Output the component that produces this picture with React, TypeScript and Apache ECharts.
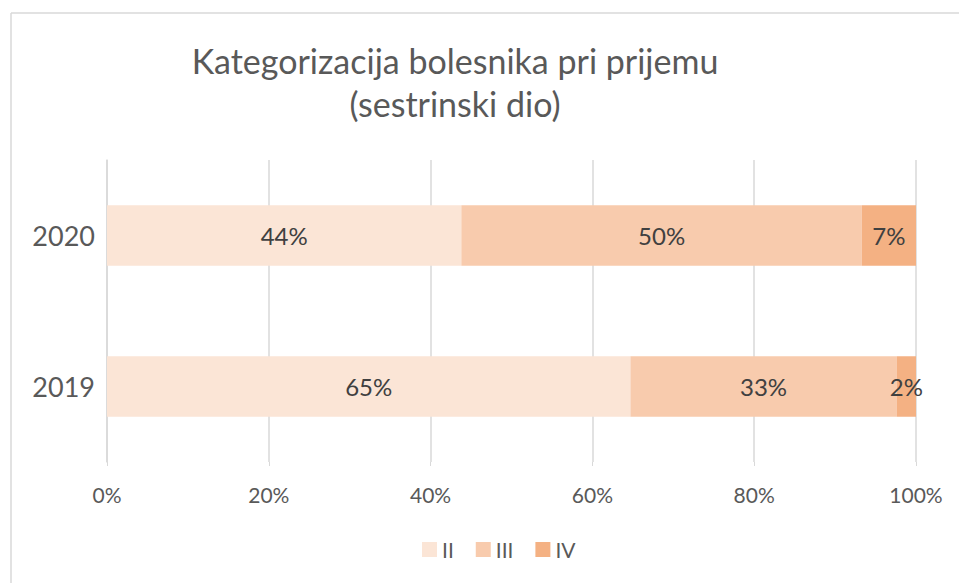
import React, { useEffect, useRef } from "react";
import * as echarts from "echarts";

const categories = ["2019", "2020"];
const seriesNames = ["II", "III", "IV"];
const valuesII = [64.7, 43.8];
const valuesIII = [32.9, 49.5];
const valuesIV = [2.4, 6.7];
const colors = ["#FBE5D6", "#F8CBAD", "#F4B183"];
const xTicks = [0, 20, 40, 60, 80, 100];
const titleLines = ["Kategorizacija bolesnika pri prijemu", "(sestrinski dio)"];

export default function App() {
  const ref = useRef<HTMLDivElement>(null);
  useEffect(() => {
    document.body.style.margin = "0";
    document.body.style.overflow = "hidden";
    const chart = echarts.init(ref.current!, null, { renderer: "svg" });
    const all = [valuesII, valuesIII, valuesIV];
    chart.setOption({
      animation: false,
      backgroundColor: "#ffffff",
      graphic: [
        {
          type: "line",
          shape: { x1: 11, y1: 13, x2: 11, y2: 600 },
          style: { stroke: "#d9d9d9", lineWidth: 1.5 },
          silent: true,
        },
        {
          type: "line",
          shape: { x1: 11, y1: 13, x2: 959, y2: 13 },
          style: { stroke: "#d9d9d9", lineWidth: 1.5 },
          silent: true,
        },
        {
          type: "text",
          x: 455,
          y: 39,
          style: {
            text: titleLines.join("\n"),
            textAlign: "center",
            textVerticalAlign: "top",
            fontFamily: "Lato",
            fontSize: 34,
            lineHeight: 43,
            fill: "#595959",
          },
          silent: true,
        },
      ],
      legend: {
        top: 534,
        left: 417,
        itemWidth: 15,
        itemHeight: 15,
        itemGap: 22,
        icon: "rect",
        data: seriesNames,
        textStyle: { fontFamily: "Lato", fontSize: 21, color: "#595959" },
      },
      grid: { left: 107, right: 43, top: 160, bottom: 121 },
      xAxis: {
        type: "value",
        min: 0,
        max: 100,
        interval: 20,
        axisLabel: {
          formatter: (v: number) => (xTicks.includes(v) ? v + "%" : ""),
          fontFamily: "Lato",
          fontSize: 21,
          color: "#595959",
          margin: 22,
        },
        axisLine: { show: false },
        axisTick: { show: true, length: 4, lineStyle: { color: "#d9d9d9" } },
        splitLine: { show: true, lineStyle: { color: "#d9d9d9", width: 1.5 } },
      },
      yAxis: {
        type: "category",
        data: categories,
        axisLine: { show: true, lineStyle: { color: "#d9d9d9", width: 1.5 } },
        axisTick: { show: false },
        axisLabel: {
          fontFamily: "Lato",
          fontSize: 27,
          color: "#595959",
          margin: 12,
        },
      },
      series: seriesNames.map((name, i) => ({
        name,
        type: "bar",
        stack: "total",
        barCategoryGap: "60%",
        data: all[i],
        itemStyle: { color: colors[i] },
        label: {
          show: true,
          position: "inside",
          formatter: (p: any) => Math.round(p.value) + "%",
          fontFamily: "Lato",
          fontSize: 24,
          color: "#404040",
        },
      })),
    });
    return () => chart.dispose();
  }, []);
  return <div ref={ref} style={{ width: 959, height: 583 }} />;
}
